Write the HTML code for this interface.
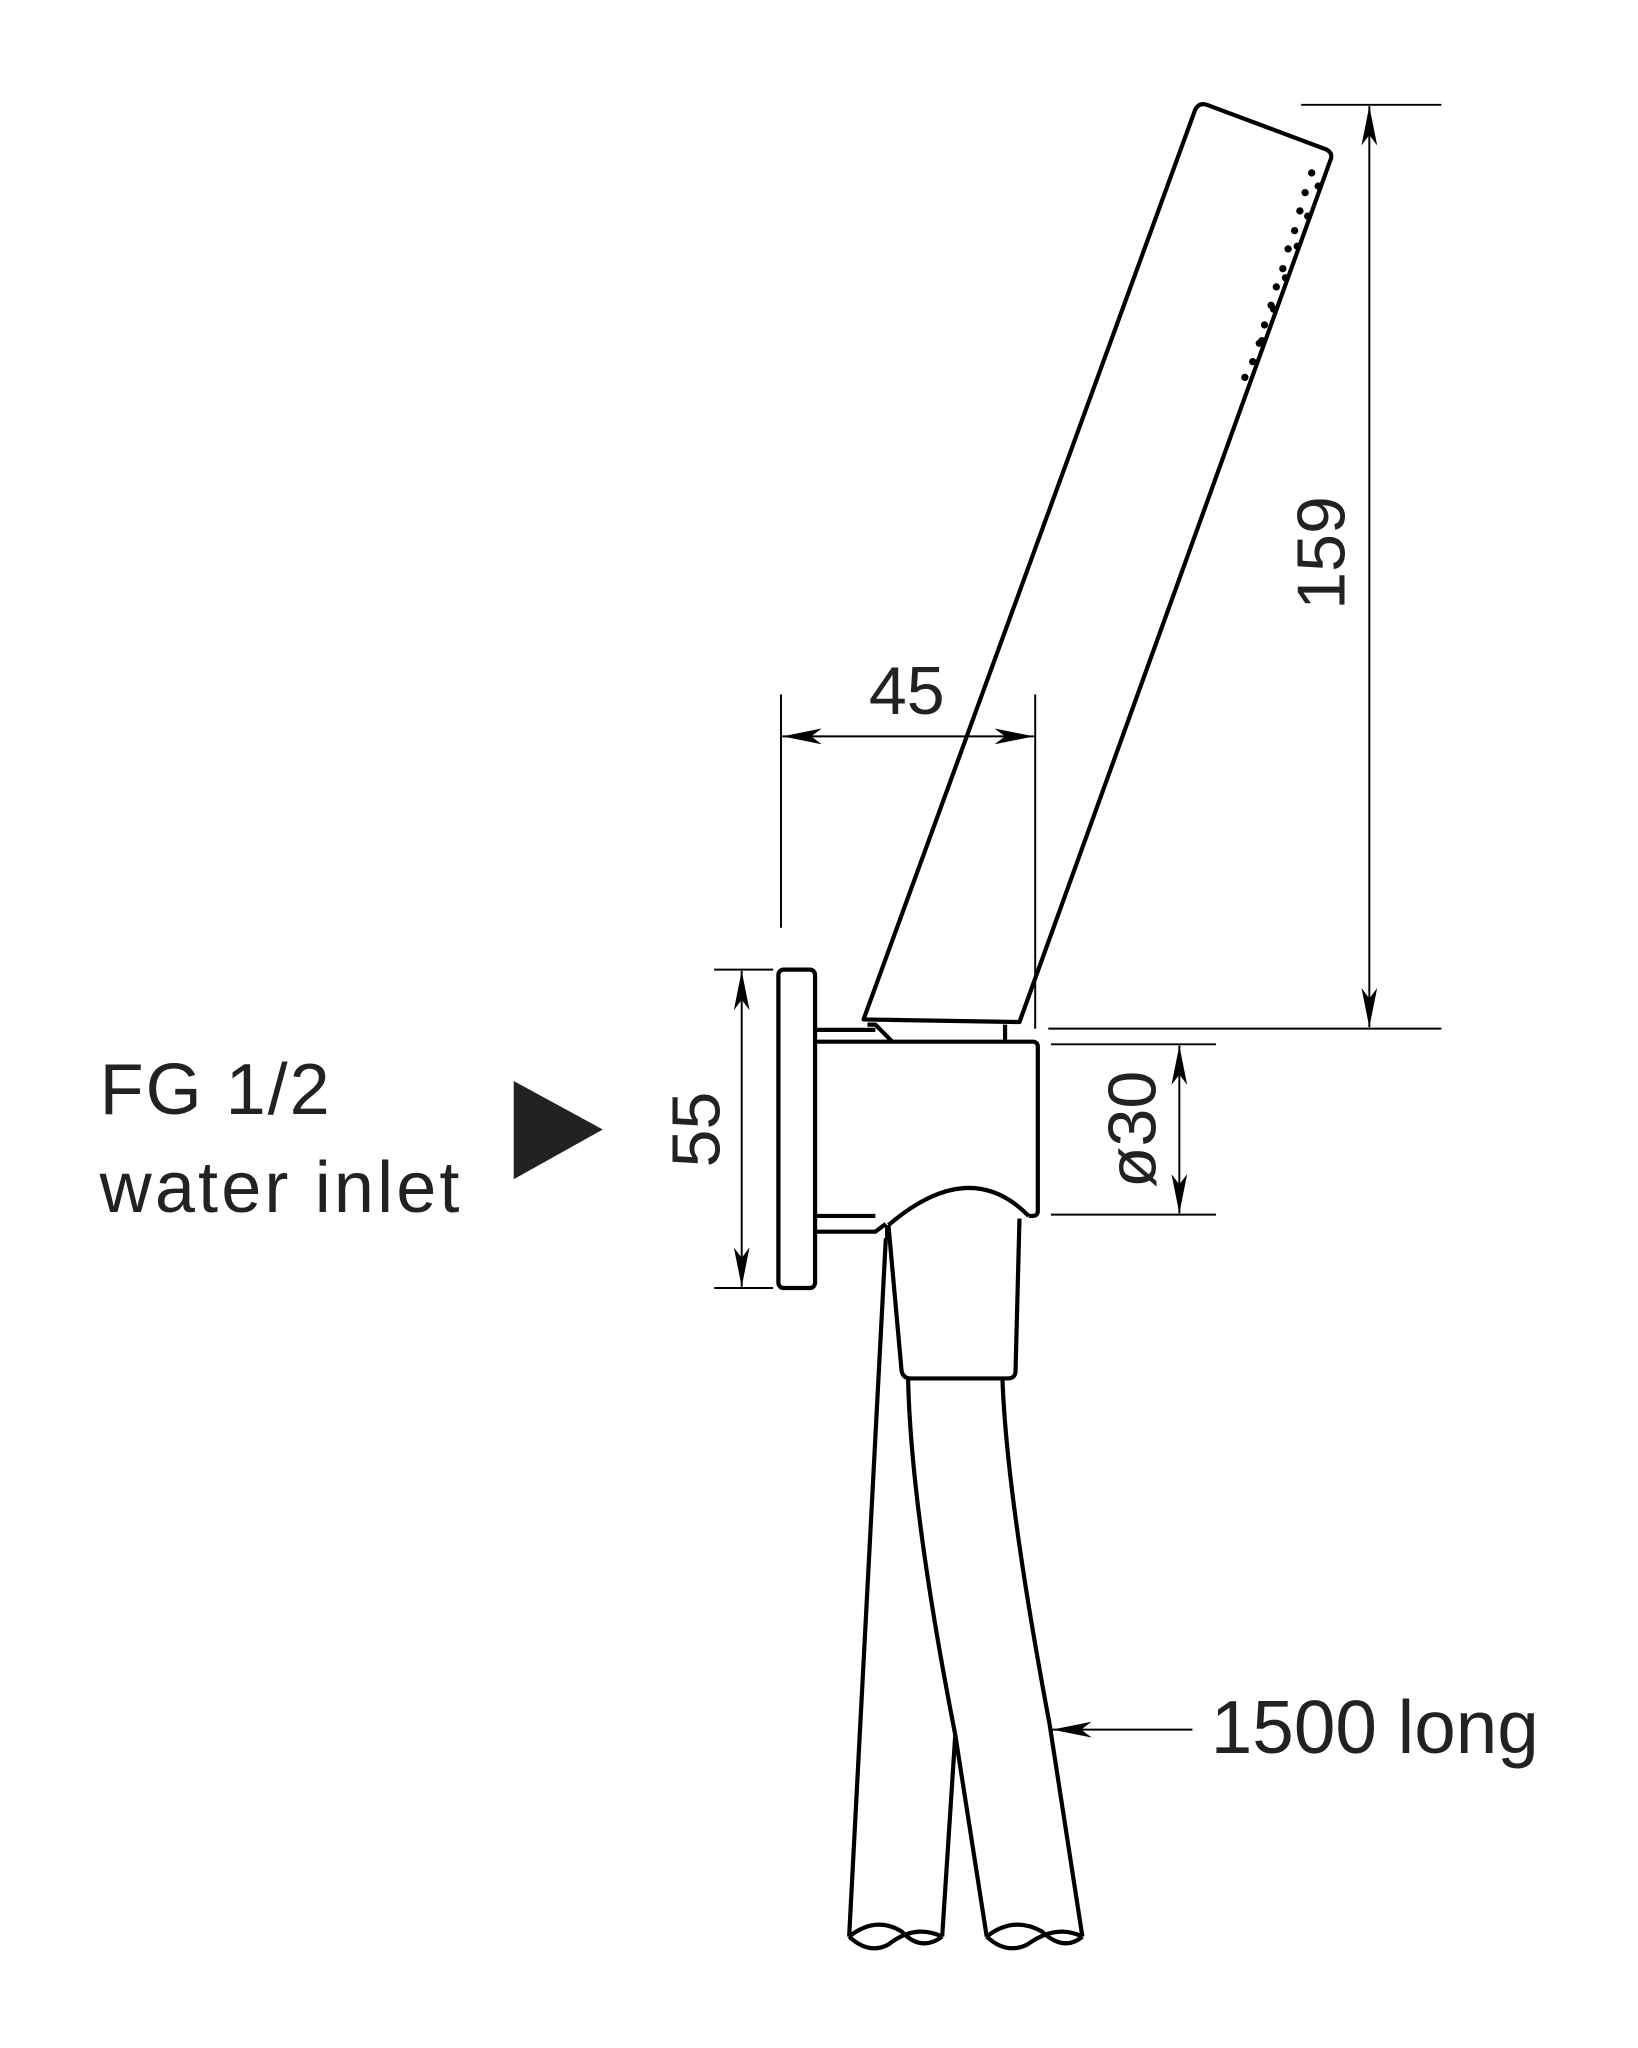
<!DOCTYPE html>
<html><head><meta charset="utf-8"><style>
html,body{margin:0;padding:0;background:#fff;}
svg{display:block;}
text{font-family:"Liberation Sans",sans-serif;fill:#222;}
</style></head><body>
<svg width="1638" height="2048" viewBox="0 0 1250 1563" xmlns="http://www.w3.org/2000/svg">
<defs>
<marker id="a" viewBox="0 0 30 12" refX="30" refY="6" markerWidth="30" markerHeight="12" markerUnits="userSpaceOnUse" orient="auto-start-reverse">
<path d="M30,6 L0,0 L8,6 L0,12 Z" fill="#000"/>
</marker>
</defs>
<g fill="none" stroke="#000" stroke-width="3.2" stroke-linejoin="round">
<path d="M659,778 L912,84 Q915,78 921,80 L1012,114 Q1018,117 1015,123 L778,780 Z"/>
<path d="M662,782 L668,782 L681,795"/>
<line x1="767" y1="782" x2="767" y2="795"/>
<path d="M622,786 L668,786"/>
<rect x="594" y="740" width="28" height="243" rx="4"/>
<path d="M622,795 L788,795 Q792,795 792,799 L792,924 Q792,928 788,928 L785,928"/>
<path d="M622,928 L668,928"/>
<path d="M622,940 L668,940 L676,934"/>
<path d="M678,935 Q740,882 785,928"/>
<path d="M678,935 L688,1046 Q689,1052 695,1052 L769,1052 Q775,1052 775,1046 L778,930"/>
<line x1="677" y1="935" x2="677" y2="946"/>
<path d="M676,945 L648,1478"/>
<path d="M693,1052 Q695,1150 729,1324 L753,1478"/>
<path d="M719,1478 L729,1324"/>
<path d="M765,1052 Q768,1140 801,1316 L826,1478"/>
<path d="M648,1478 Q668,1462 688,1474 Q703,1490 719,1478"/>
<path d="M648,1478 Q663,1492 678,1484 Q698,1468 719,1478"/>
<path d="M753,1478 Q773,1462 795,1474 Q812,1490 826,1478"/>
<path d="M753,1478 Q768,1492 784,1484 Q806,1468 826,1478"/>
</g>
<g fill="#000">
<circle cx="1001" cy="132" r="2.8"/><circle cx="996" cy="147" r="2.8"/>
<circle cx="992" cy="161" r="2.8"/><circle cx="988" cy="176" r="2.8"/>
<circle cx="983" cy="190" r="2.8"/><circle cx="979" cy="205" r="2.8"/>
<circle cx="974" cy="219" r="2.8"/><circle cx="970" cy="233" r="2.8"/>
<circle cx="965" cy="248" r="2.8"/><circle cx="961" cy="262" r="2.8"/>
<circle cx="956" cy="276" r="2.8"/><circle cx="950" cy="288" r="2.8"/>
<circle cx="1006" cy="142" r="2.8"/><circle cx="998" cy="165" r="2.8"/>
<circle cx="990" cy="188" r="2.8"/><circle cx="981" cy="212" r="2.8"/>
<circle cx="972" cy="236" r="2.8"/><circle cx="963" cy="260" r="2.8"/>
</g>
<g stroke="#000" stroke-width="1.5" fill="none">
<line x1="993" y1="80" x2="1100" y2="80"/>
<line x1="800" y1="785" x2="1100" y2="785"/>
<line x1="1045" y1="81" x2="1045" y2="784" marker-start="url(#a)" marker-end="url(#a)"/>
<line x1="596" y1="530" x2="596" y2="708"/>
<line x1="790" y1="530" x2="790" y2="785"/>
<line x1="597" y1="562" x2="789" y2="562" marker-start="url(#a)" marker-end="url(#a)"/>
<line x1="545" y1="740" x2="590" y2="740"/>
<line x1="545" y1="983" x2="590" y2="983"/>
<line x1="566" y1="741" x2="566" y2="982" marker-start="url(#a)" marker-end="url(#a)"/>
<line x1="802" y1="797" x2="928" y2="797"/>
<line x1="802" y1="927" x2="928" y2="927"/>
<line x1="900" y1="798" x2="900" y2="926" marker-start="url(#a)" marker-end="url(#a)"/>
<line x1="910" y1="1320" x2="803" y2="1320" marker-end="url(#a)"/>
</g>
<polygon points="392,825 460,862 392,900" fill="#222"/>
<text x="76" y="850" font-size="55" letter-spacing="1.5">FG 1/2</text>
<text x="76" y="925" font-size="55" letter-spacing="2.4">water inlet</text>
<text x="924" y="1338" font-size="57">1500 long</text>
<text x="692" y="545" font-size="52" text-anchor="middle">45</text>
<text transform="translate(1026,422) rotate(-90)" font-size="52" text-anchor="middle">159</text>
<text transform="translate(549,862) rotate(-90)" font-size="52" text-anchor="middle">55</text>
<text transform="translate(882,862) rotate(-90)" font-size="52" text-anchor="middle">ø30</text>
</svg>
</body></html>
